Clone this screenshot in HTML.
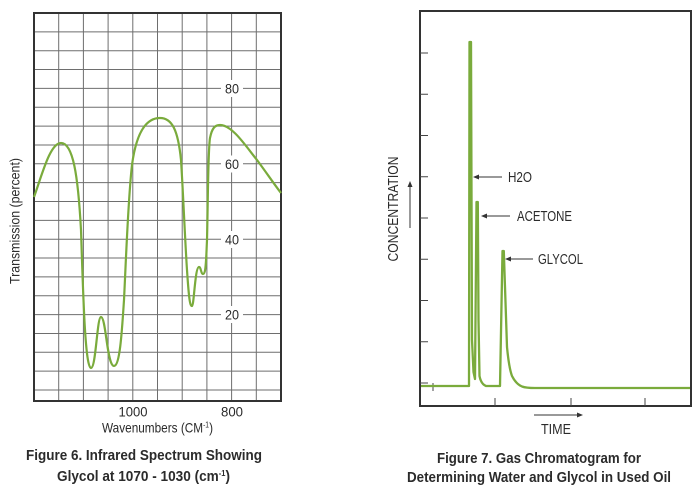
<!DOCTYPE html>
<html>
<head>
<meta charset="utf-8">
<style>
  html,body{margin:0;padding:0;background:#fff;}
  svg{display:block;}
  text{font-family:"Liberation Sans",sans-serif;fill:#2b2b2b;}
</style>
</head>
<body>
<svg width="700" height="490" viewBox="0 0 700 490" xmlns="http://www.w3.org/2000/svg">
  <!-- LEFT CHART GRID -->
  <g stroke="#6e6e6e" stroke-width="1" fill="none">
    <line x1="58.7" y1="13" x2="58.7" y2="401"/>
    <line x1="83.4" y1="13" x2="83.4" y2="401"/>
    <line x1="108.1" y1="13" x2="108.1" y2="401"/>
    <line x1="132.8" y1="13" x2="132.8" y2="401"/>
    <line x1="157.5" y1="13" x2="157.5" y2="401"/>
    <line x1="182.2" y1="13" x2="182.2" y2="401"/>
    <line x1="206.9" y1="13" x2="206.9" y2="401"/>
    <line x1="231.6" y1="13" x2="231.6" y2="401"/>
    <line x1="256.3" y1="13" x2="256.3" y2="401"/>
    <line x1="34" y1="31.85" x2="281" y2="31.85"/>
    <line x1="34" y1="50.7" x2="281" y2="50.7"/>
    <line x1="34" y1="69.55" x2="281" y2="69.55"/>
    <line x1="34" y1="88.4" x2="281" y2="88.4"/>
    <line x1="34" y1="107.25" x2="281" y2="107.25"/>
    <line x1="34" y1="126.1" x2="281" y2="126.1"/>
    <line x1="34" y1="144.95" x2="281" y2="144.95"/>
    <line x1="34" y1="163.8" x2="281" y2="163.8"/>
    <line x1="34" y1="182.65" x2="281" y2="182.65"/>
    <line x1="34" y1="201.5" x2="281" y2="201.5"/>
    <line x1="34" y1="220.35" x2="281" y2="220.35"/>
    <line x1="34" y1="239.2" x2="281" y2="239.2"/>
    <line x1="34" y1="258.05" x2="281" y2="258.05"/>
    <line x1="34" y1="276.9" x2="281" y2="276.9"/>
    <line x1="34" y1="295.75" x2="281" y2="295.75"/>
    <line x1="34" y1="314.6" x2="281" y2="314.6"/>
    <line x1="34" y1="333.45" x2="281" y2="333.45"/>
    <line x1="34" y1="352.3" x2="281" y2="352.3"/>
    <line x1="34" y1="371.15" x2="281" y2="371.15"/>
    <line x1="34" y1="390" x2="281" y2="390"/>
  </g>
  <rect x="34" y="13" width="247" height="388" fill="none" stroke="#333" stroke-width="2"/>

  <!-- label boxes -->
  <g fill="#fff">
    <rect x="221" y="80" width="22" height="17"/>
    <rect x="221" y="155.5" width="22" height="17"/>
    <rect x="221" y="231" width="22" height="17"/>
    <rect x="221" y="306" width="22" height="17"/>
  </g>
  <g font-size="14" text-anchor="middle">
    <text x="232" y="93.5" textLength="14" lengthAdjust="spacingAndGlyphs">80</text>
    <text x="232" y="169" textLength="14" lengthAdjust="spacingAndGlyphs">60</text>
    <text x="232" y="244.5" textLength="14" lengthAdjust="spacingAndGlyphs">40</text>
    <text x="232" y="319.5" textLength="14" lengthAdjust="spacingAndGlyphs">20</text>
  </g>

  <!-- IR spectrum curve -->
  <path d="M34,197 C42,175 50,143 61,143 C73,143 78,175 81,230 C83,290 85,368 91,368 C96,368 97,317 101,317 C106,317 107,366 114,366 C120,366 122,330 124,300 C126,260 128,200 132,165 C136,135 145,118 160,118 C172,118 178,130 181,160 C183,190 185,240 187,270 C189,300 190,306 192,306 C194,306 195,267 199,267 C201,267 201,274 203,274 C206,274 206,262 207,240 C208,200 208,150 210,138 C212,128 215,125 220,125 C232,125 245,145 257,160 C266,172 274,184 281,193"
        fill="none" stroke="#7aab3c" stroke-width="2.2" stroke-linejoin="round"/>

  <!-- Left axis labels -->
  <g font-size="14" text-anchor="middle">
    <text x="133" y="416.5" textLength="29" lengthAdjust="spacingAndGlyphs">1000</text>
    <text x="232" y="416.5" textLength="22" lengthAdjust="spacingAndGlyphs">800</text>
  </g>
  <text x="102" y="432.5" font-size="14" textLength="111" lengthAdjust="spacingAndGlyphs">Wavenumbers (CM<tspan font-size="8" dy="-5">-1</tspan><tspan dy="5">)</tspan></text>
  <text transform="translate(19.5,221) rotate(-90)" font-size="14" text-anchor="middle" textLength="126" lengthAdjust="spacingAndGlyphs">Transmission (percent)</text>

  <text x="26" y="460" font-size="14.5" font-weight="bold" textLength="236" lengthAdjust="spacingAndGlyphs">Figure 6. Infrared Spectrum Showing</text>
  <text x="57" y="481" font-size="14.5" font-weight="bold" textLength="173" lengthAdjust="spacingAndGlyphs">Glycol at 1070 - 1030 (cm<tspan font-size="8" dy="-5">-1</tspan><tspan dy="5">)</tspan></text>

  <!-- RIGHT CHART -->
  <rect x="420" y="11" width="271" height="395" fill="none" stroke="#333" stroke-width="2"/>
  <g stroke="#444" stroke-width="1">
    <line x1="420" y1="53" x2="428" y2="53"/>
    <line x1="420" y1="94.25" x2="428" y2="94.25"/>
    <line x1="420" y1="135.5" x2="428" y2="135.5"/>
    <line x1="420" y1="176.75" x2="428" y2="176.75"/>
    <line x1="420" y1="218" x2="428" y2="218"/>
    <line x1="420" y1="259.25" x2="428" y2="259.25"/>
    <line x1="420" y1="300.5" x2="428" y2="300.5"/>
    <line x1="420" y1="341.75" x2="428" y2="341.75"/>
    <line x1="420" y1="383" x2="428" y2="383"/>
    <line x1="433" y1="383" x2="433" y2="391"/>
    <line x1="495" y1="398" x2="495" y2="406"/>
    <line x1="571" y1="398" x2="571" y2="406"/>
    <line x1="645" y1="398" x2="645" y2="406"/>
  </g>

  <!-- chromatogram -->
  <path d="M421,386 L469,386 L469.5,42 L471,42 L472,340 L473.5,372 L475,379 L476.5,202 L477.8,202 L478.5,320 L479.5,376 Q481,384 486,386 L500,386 L502.5,251 L503.8,251 L505,287 L507,347 Q509,368 512,376 Q516,384 522,386.5 Q526,388 535,388 L690,388"
        fill="none" stroke="#7aab3c" stroke-width="2.3" stroke-linejoin="round"/>

  <!-- annotations -->
  <g stroke="#333" stroke-width="1" fill="none">
    <line x1="476" y1="177" x2="502" y2="177"/>
    <line x1="484" y1="216" x2="510" y2="216"/>
    <line x1="508" y1="259" x2="533" y2="259"/>
    <line x1="410" y1="186" x2="410" y2="228"/>
    <line x1="534" y1="415" x2="577" y2="415"/>
  </g>
  <g fill="#333">
    <polygon points="473,177 479,174.5 479,179.5"/>
    <polygon points="481,216 487,213.5 487,218.5"/>
    <polygon points="505,259 511,256.5 511,261.5"/>
    <polygon points="410,181 407.5,187 412.5,187"/>
    <polygon points="583,415 577,412.5 577,417.5"/>
  </g>
  <g font-size="15">
    <text x="508" y="182" textLength="24" lengthAdjust="spacingAndGlyphs">H2O</text>
    <text x="517" y="221" textLength="55" lengthAdjust="spacingAndGlyphs">ACETONE</text>
    <text x="538" y="264" textLength="45" lengthAdjust="spacingAndGlyphs">GLYCOL</text>
    <text x="541" y="434" textLength="30" lengthAdjust="spacingAndGlyphs">TIME</text>
  </g>
  <text transform="translate(398,209) rotate(-90)" font-size="15" text-anchor="middle" textLength="105" lengthAdjust="spacingAndGlyphs">CONCENTRATION</text>

  <text x="437" y="463" font-size="14.5" font-weight="bold" textLength="204" lengthAdjust="spacingAndGlyphs">Figure 7. Gas Chromatogram for</text>
  <text x="407" y="482" font-size="14.5" font-weight="bold" textLength="264" lengthAdjust="spacingAndGlyphs">Determining Water and Glycol in Used Oil</text>
</svg>
</body>
</html>
